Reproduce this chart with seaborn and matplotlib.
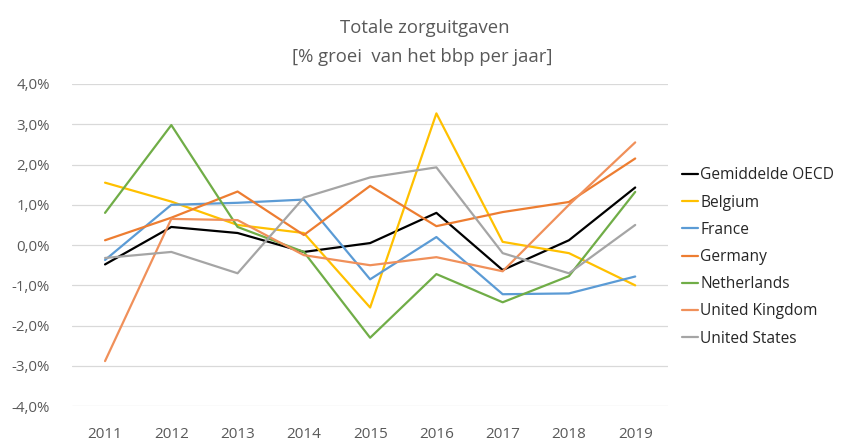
import pandas as pd
import matplotlib.pyplot as plt
import seaborn as sns

jaren = ['2011', '2012', '2013', '2014', '2015', '2016', '2017', '2018', '2019']

oecd = [-0.48, 0.45, 0.30, -0.17, 0.05, 0.80, -0.62, 0.12, 1.43]
belgium = [1.55, 1.08, 0.50, 0.30, -1.55, 3.27, 0.08, -0.20, -1.00]
france = [-0.37, 1.00, 1.05, 1.13, -0.85, 0.20, -1.22, -1.20, -0.78]
germany = [0.12, 0.68, 1.33, 0.25, 1.47, 0.47, 0.82, 1.07, 2.15]
netherlands = [0.80, 2.98, 0.45, -0.17, -2.30, -0.72, -1.42, -0.77, 1.32]
uk = [-2.88, 0.65, 0.62, -0.25, -0.50, -0.30, -0.65, 1.00, 2.55]
us = [-0.32, -0.17, -0.70, 1.18, 1.68, 1.93, -0.20, -0.70, 0.50]

reeksen = {
    'Gemiddelde OECD': oecd,
    'Belgium': belgium,
    'France': france,
    'Germany': germany,
    'Netherlands': netherlands,
    'United Kingdom': uk,
    'United States': us,
}
kleuren = ['#000000', '#FFC000', '#5B9BD5', '#ED7D31', '#70AD47', '#F0905A', '#A5A5A5']

rows = []
for land, waarden in reeksen.items():
    for j, w in zip(jaren, waarden):
        rows.append({'Jaar': j, 'Groei': w, 'Land': land})
df = pd.DataFrame(rows)

sns.set_style('white')
plt.rcParams['font.family'] = ['Open Sans', 'DejaVu Sans']
tekst = '#595959'

fig = plt.figure(figsize=(8.46, 4.42), dpi=100)
ax = fig.add_axes([0.085, 0.081, 0.705, 0.729])

sns.lineplot(data=df, x='Jaar', y='Groei', hue='Land', palette=kleuren,
             linewidth=1.6, ax=ax, sort=False)

ax.set_ylim(-4, 4)
ax.set_xlim(-0.5, 8.5)
ax.set_yticks(range(-4, 5))
ax.set_yticklabels([f'{v},0%' for v in range(-4, 5)])
ax.grid(axis='y', color='#D9D9D9', linewidth=0.9)
ax.set_axisbelow(True)
for s in ax.spines.values():
    s.set_visible(False)
ax.tick_params(axis='both', length=0, colors=tekst)
ax.tick_params(axis='y', pad=16, labelsize=10.8)
ax.tick_params(axis='x', pad=15, labelsize=11)
ax.set_xlabel('')
ax.set_ylabel('')

fig.text(0.502, 0.936, 'Totale zorguitgaven', ha='center', va='center',
         fontsize=13.3, color=tekst)
fig.text(0.499, 0.872, '[% groei  van het bbp per jaar]', ha='center', va='center',
         fontsize=13.3, color=tekst)

leg = ax.legend(loc='center left', bbox_to_anchor=(1.0, 0.463), frameon=False,
                handlelength=1.0, handletextpad=0.15, labelspacing=0.72, fontsize=11.2)
for t in leg.get_texts():
    t.set_color('#262626')

fig.savefig('out.png', dpi=100)
